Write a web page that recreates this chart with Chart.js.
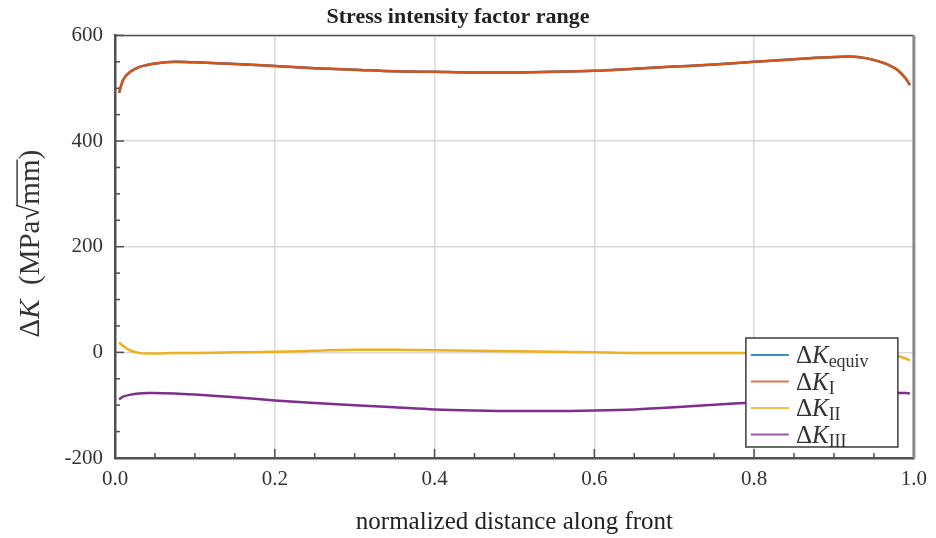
<!DOCTYPE html>
<html>
<head>
<meta charset="utf-8">
<script src="https://cdn.jsdelivr.net/npm/chart.js@4.4.0/dist/chart.umd.min.js"></script>
<style>
  html, body { margin: 0; padding: 0; background: #fff; }
  #wrap { width: 936px; height: 538px; }
</style>
</head>
<body>
<div id="wrap"><canvas id="myChart"></canvas></div>
<script>
// normalized position along the crack front
const distance = [0.005, 0.01, 0.02, 0.03, 0.04, 0.05, 0.075, 0.1, 0.15, 0.2, 0.25, 0.3, 0.35, 0.4, 0.45, 0.5,
  0.55, 0.6, 0.65, 0.7, 0.75, 0.8, 0.85, 0.9, 0.92, 0.94, 0.96, 0.97, 0.98, 0.99, 0.995];
const kEquiv = [491, 515, 532, 540, 544, 547, 550, 549, 546, 542, 538, 535, 532, 531, 530, 530,
  531, 533, 537, 541, 545, 550, 555, 559, 560, 557, 549, 543, 534, 518, 506];
const kI = [491, 515, 532, 540, 544, 547, 550, 549, 546, 542, 538, 535, 532, 531, 530, 530,
  531, 533, 537, 541, 545, 550, 555, 559, 560, 557, 549, 543, 534, 518, 506];
const kII = [19, 12, 3, -1, -2, -2, -1, -1, 0, 1, 3, 5, 5, 4, 3, 2,
  1, 0, -1, -1, -1, -1, 0, 0, 0, 0, -1, -3, -7, -12, -15];
const kIII = [-89, -84, -80, -78, -77, -77, -78, -80, -85, -91, -96, -100, -104, -108, -110, -111,
  -111, -110, -108, -104, -99, -95, -90, -85, -83, -80, -78, -77, -77, -77, -78];

const seriesSubs = ['equiv', 'I', 'II', 'III'];
const seriesColors = ['#0072BD', '#D95319', '#EDB120', '#7E2F8E'];
const seriesValues = [kEquiv, kI, kII, kIII];

const serif = '"Liberation Serif", "DejaVu Serif", serif';
const textColor = '#333';
const axisColor = '#505050';

const toPoints = (values) => distance.map((x, i) => ({ x: x, y: values[i] }));

// inward minor/major ticks plus top and right frame lines
const frameTicks = {
  id: 'frameTicks',
  beforeDatasetsDraw(chart) {
    const { ctx, chartArea: a, scales } = chart;
    ctx.save();
    ctx.strokeStyle = axisColor;
    ctx.lineWidth = 1.5;
    scales.x.ticks.forEach((t) => {
      const px = scales.x.getPixelForValue(t.value);
      const major = Math.round(t.value * 100) % 20 === 0;
      ctx.beginPath();
      ctx.moveTo(px, a.bottom);
      ctx.lineTo(px, a.bottom - (major ? 9 : 5));
      ctx.stroke();
    });
    scales.y.ticks.forEach((t) => {
      const py = scales.y.getPixelForValue(t.value);
      const major = Math.round(t.value) % 200 === 0;
      ctx.beginPath();
      ctx.moveTo(a.left, py);
      ctx.lineTo(a.left + (major ? 9 : 5), py);
      ctx.stroke();
    });
    ctx.beginPath();
    ctx.moveTo(a.left, a.top);
    ctx.lineTo(a.right, a.top);
    ctx.stroke();
    ctx.strokeStyle = '#8a8a8a';
    ctx.lineWidth = 3;
    ctx.beginPath();
    ctx.moveTo(a.right, a.top);
    ctx.lineTo(a.right, a.bottom);
    ctx.stroke();
    ctx.restore();
  },
};

// y axis title: italic K and an overlined radicand
const yTitle = {
  id: 'yTitle',
  afterDraw(chart) {
    const { ctx, chartArea: a } = chart;
    const size = 29;
    const up = `${size}px ${serif}`;
    const it = `italic ${size}px ${serif}`;
    const parts = [
      { t: '\u0394', f: up },
      { t: 'K', f: it },
      { t: '  (MPa', f: up },
      { t: '\u221A', f: up },
      { t: 'mm', f: up, over: true },
      { t: ')', f: up },
    ];
    let total = 0;
    parts.forEach((p) => { ctx.font = p.f; p.w = ctx.measureText(p.t).width; total += p.w; });
    ctx.save();
    ctx.translate(31, (a.top + a.bottom) / 2 - 3);
    ctx.rotate(-Math.PI / 2);
    ctx.fillStyle = textColor;
    ctx.strokeStyle = textColor;
    ctx.textBaseline = 'middle';
    let x = -total / 2;
    parts.forEach((p) => {
      ctx.font = p.f;
      ctx.fillText(p.t, x, 0);
      if (p.over) {
        ctx.lineWidth = 1.4;
        ctx.beginPath();
        ctx.moveTo(x - 1, -size * 0.48);
        ctx.lineTo(x + p.w, -size * 0.48);
        ctx.stroke();
      }
      x += p.w;
    });
    ctx.restore();
  },
};

// legend box with subscripted labels
const subLegend = {
  id: 'subLegend',
  afterDraw(chart) {
    const { ctx, chartArea: a } = chart;
    const w = 152, h = 109;
    const x0 = a.right - 16 - w;
    const y0 = a.bottom - 11 - h;
    ctx.save();
    ctx.fillStyle = '#fff';
    ctx.fillRect(x0, y0, w, h);
    ctx.strokeStyle = '#3c3c3c';
    ctx.lineWidth = 1.5;
    ctx.strokeRect(x0, y0, w, h);
    seriesSubs.forEach((sub, i) => {
      const y = y0 + 17 + i * 26.5;
      ctx.strokeStyle = seriesColors[i];
      ctx.globalAlpha = 0.8;
      ctx.lineWidth = 2;
      ctx.beginPath();
      ctx.moveTo(x0 + 5, y);
      ctx.lineTo(x0 + 43, y);
      ctx.stroke();
      ctx.globalAlpha = 1;
      ctx.fillStyle = textColor;
      ctx.textBaseline = 'alphabetic';
      let x = x0 + 50;
      const base = y + 8;
      ctx.font = `25px ${serif}`;
      ctx.fillText('\u0394', x, base);
      x += ctx.measureText('\u0394').width;
      ctx.font = `italic 25px ${serif}`;
      ctx.fillText('K', x, base);
      x += ctx.measureText('K').width;
      ctx.font = `18px ${serif}`;
      ctx.fillText(sub, x, base + 4);
    });
    ctx.restore();
  },
};

new Chart(document.getElementById('myChart'), {
  type: 'line',
  data: {
    datasets: seriesValues.map((vals, i) => ({
      label: '\u0394K' + seriesSubs[i],
      data: toPoints(vals),
      borderColor: seriesColors[i],
      backgroundColor: seriesColors[i],
      borderWidth: 2.5,
      pointRadius: 0,
      cubicInterpolationMode: 'monotone',
      order: i === 0 ? 5 : 1,
    })),
  },
  options: {
    responsive: true,
    maintainAspectRatio: false,
    animation: false,
    layout: { padding: { left: 0, right: 20, top: 0, bottom: 0 } },
    scales: {
      x: {
        type: 'linear',
        min: 0,
        max: 1,
        afterFit: (s) => { s.height = 80; },
        ticks: {
          stepSize: 0.05,
          autoSkip: false,
          maxRotation: 0,
          padding: 9,
          color: textColor,
          font: { family: serif, size: 21 },
          callback: (v) => (Math.round(v * 100) % 20 === 0 ? v.toFixed(1) : ''),
        },
        grid: {
          drawTicks: false,
          lineWidth: 1.5,
          color: (c) => (c.tick && Math.round(c.tick.value * 100) % 20 === 0 ? '#d9d9d9' : 'rgba(0,0,0,0)'),
        },
        border: { color: axisColor, width: 2.5 },
        title: {
          display: true,
          text: 'normalized distance along front',
          color: '#222',
          font: { family: serif, size: 25 },
          padding: { top: 0, bottom: 1 },
        },
      },
      y: {
        min: -200,
        max: 600,
        afterFit: (s) => { s.width = 115; },
        ticks: {
          stepSize: 50,
          autoSkip: false,
          padding: 12,
          color: textColor,
          font: { family: serif, size: 21 },
          callback: (v) => (Math.round(v) % 200 === 0 ? String(v) : ''),
        },
        grid: {
          drawTicks: false,
          lineWidth: 1.5,
          color: (c) => (c.tick && Math.round(c.tick.value) % 200 === 0 ? '#d9d9d9' : 'rgba(0,0,0,0)'),
        },
        border: { color: axisColor, width: 2.5 },
      },
    },
    plugins: {
      title: {
        display: true,
        text: 'Stress intensity factor range',
        color: '#222',
        font: { family: serif, size: 22, weight: 'bold' },
        padding: { top: 4, bottom: 5 },
      },
      legend: { display: false },
      tooltip: { enabled: false },
    },
  },
  plugins: [frameTicks, yTitle, subLegend],
});
</script>
</body>
</html>
